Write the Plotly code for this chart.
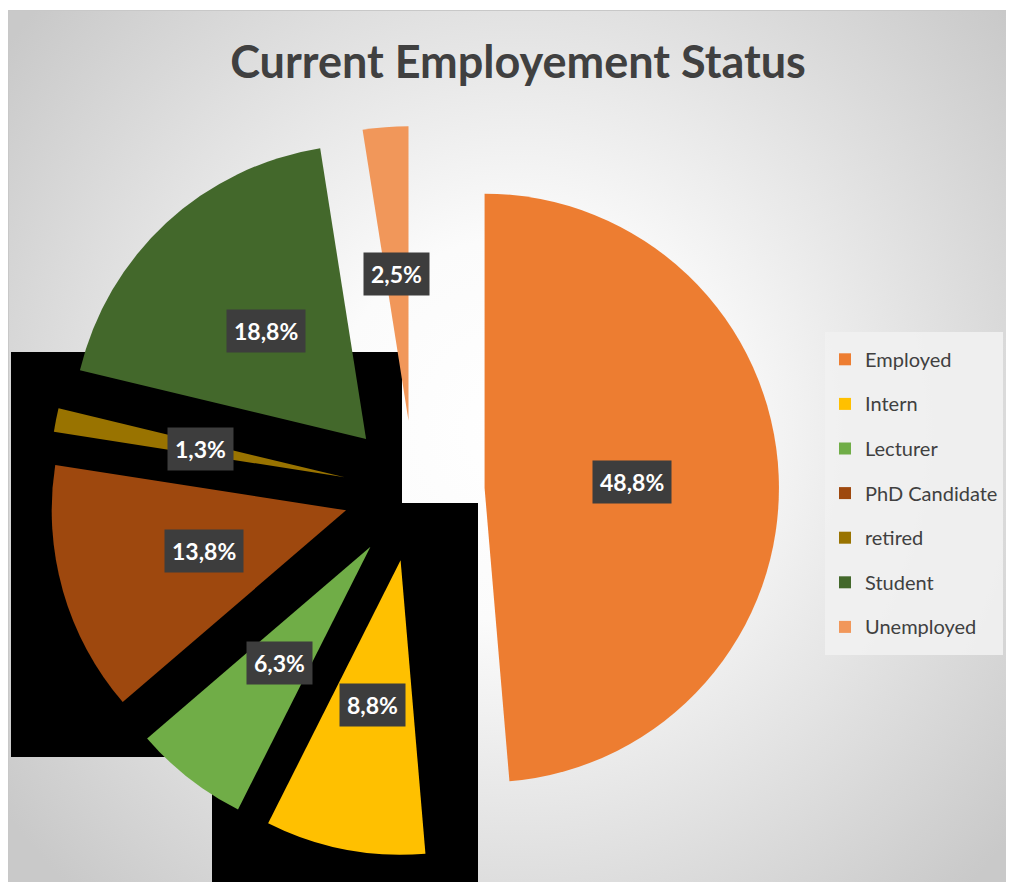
import base64
import math
import plotly.graph_objects as go

W, H = 1014, 882
OFF = 8  # the page body margin moves the figure by 8px

categories = ["Employed", "Intern", "Lecturer", "PhD Candidate", "retired", "Student", "Unemployed"]
shares = [48.8, 8.8, 6.3, 13.8, 1.3, 18.8, 2.5]
colors = ["#ED7D31", "#FFC000", "#70AD47", "#9E480E", "#997300", "#43682B", "#F1975A"]
pulls = [0.24] * 7


def fx(x):
    return (x - OFF) / W


def fy(y):
    return 1 - (y - OFF) / H


dom_x = [fx(49), fx(779)]
dom_y = [fy(856), fy(126)]

# same sizing rule plotly uses for the pie, so the boxed labels sit on the slices
r = min((dom_x[1] - dom_x[0]) * W, (dom_y[1] - dom_y[0]) * H) / 2 / (1 + max(pulls))
cx = (dom_x[0] + dom_x[1]) / 2 * W + OFF
cy = (1 - (dom_y[0] + dom_y[1]) / 2) * H + OFF

total = sum(shares)
cum = 0
annotations = []
for v, p in zip(shares, pulls):
    mid = 2 * math.pi * (cum + v / 2) / total
    cum += v
    dist = (p + 0.5) * r
    x = cx + dist * math.sin(mid)
    y = cy - dist * math.cos(mid)
    annotations.append(dict(
        x=fx(x), y=fy(y), xref="paper", yref="paper", showarrow=False,
        xanchor="center", yanchor="middle",
        text="<b>" + f"{v:.1f}".replace(".", ",") + "%</b>",
        font=dict(family="Lato", size=23, color="white"),
        bgcolor="#3d3d3d", borderpad=7,
    ))

# radial grey background of the chart area
svg = ("<svg xmlns='http://www.w3.org/2000/svg' width='1040' height='890'>"
       "<defs><radialGradient id='g' gradientUnits='userSpaceOnUse' cx='510' cy='420' r='640'>"
       "<stop offset='0' stop-color='#ffffff'/><stop offset='0.3' stop-color='#fbfbfb'/>"
       "<stop offset='1' stop-color='#c9c9c9'/></radialGradient></defs>"
       "<rect width='1040' height='890' fill='url(#g)'/></svg>")
bg_src = "data:image/svg+xml;base64," + base64.b64encode(svg.encode()).decode()

legend_labels = ["<span style='font-size:20px;baseline-shift:5px'>" + c + "</span>" for c in categories]

fig = go.Figure(go.Pie(
    labels=legend_labels,
    values=shares,
    sort=False,
    direction="clockwise",
    rotation=0,
    pull=pulls,
    marker=dict(colors=colors, line=dict(width=0)),
    textinfo="none",
    hoverinfo="skip",
    domain=dict(x=dom_x, y=dom_y),
))

shapes = [
    dict(type="rect", xref="paper", yref="paper", x0=fx(11), x1=fx(402), y0=fy(757), y1=fy(352),
         fillcolor="black", line=dict(width=0), layer="below"),
    dict(type="rect", xref="paper", yref="paper", x0=fx(212), x1=fx(478), y0=fy(900), y1=fy(503),
         fillcolor="black", line=dict(width=0), layer="below"),
    dict(type="rect", xref="paper", yref="paper", x0=fx(8.5), x1=fx(1060), y0=fy(900), y1=fy(10.5),
         fillcolor="rgba(0,0,0,0)", line=dict(width=1, color="#c8c8c8"), layer="below"),
]

fig.update_layout(
    width=W, height=H,
    margin=dict(l=0, r=0, t=0, b=0),
    paper_bgcolor="white",
    title=dict(text="<b>Current Employement Status</b>", x=fx(518), y=fy(62),
               xanchor="center", yanchor="middle",
               font=dict(family="Lato", size=45, color="#404040")),
    legend=dict(x=fx(825), y=fy(332), xanchor="left", yanchor="top",
                bgcolor="rgba(241,241,241,0.9)",
                font=dict(family="Lato", size=32, color="#404040")),
    images=[dict(source=bg_src, xref="paper", yref="paper", x=fx(8), y=fy(10),
                 sizex=1040 / W, sizey=890 / H, sizing="stretch", layer="below")],
    shapes=shapes,
    annotations=annotations,
)

fig.write_html("out.html")
